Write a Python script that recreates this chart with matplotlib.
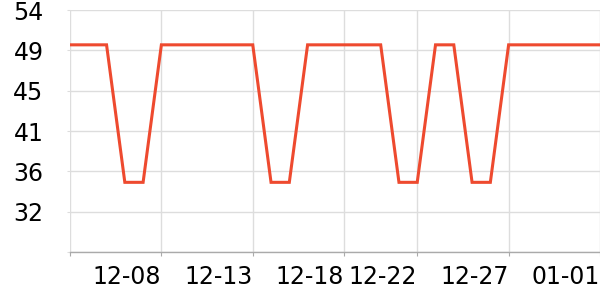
import matplotlib
matplotlib.use("Agg")
import matplotlib.pyplot as plt
import numpy as np

dates = ["12-03","12-04","12-05","12-06","12-07","12-08","12-09","12-10","12-11","12-12",
         "12-13","12-14","12-15","12-16","12-17","12-18","12-19","12-20","12-21","12-22",
         "12-23","12-24","12-25","12-26","12-27","12-28","12-29","12-30","12-31","01-01"]
values = [50, 50, 50, 35, 35, 50, 50, 50, 50, 50,
          50, 35, 35, 50, 50, 50, 50, 50, 35, 35,
          50, 50, 35, 35, 50, 50, 50, 50, 50, 50]
xtick_idx = [0, 5, 10, 15, 19, 24, 29]
xtick_labels = ["", "12-08", "12-13", "12-18", "12-22", "12-27", "01-01"]
ytick_vals = [27.4, 31.8, 36.2, 40.6, 45.0, 49.4, 53.8]
ytick_labels = ["", "32", "36", "41", "45", "49", "54"]

fig = plt.figure(figsize=(6, 3), dpi=100)
ax = fig.add_axes([70/600, 48/300, 530/600, 242/300])
x = np.arange(len(values))
ax.plot(x, values, color="#ee4a2f", linewidth=2.2, solid_joinstyle="miter", zorder=3)

ax.set_xlim(0, len(values) - 1)
ax.set_ylim(ytick_vals[0], ytick_vals[-1])
ax.set_xticks(xtick_idx)
ax.set_xticklabels(xtick_labels, fontsize=17, ha="right")
ax.set_yticks(ytick_vals)
ax.set_yticklabels(ytick_labels, fontsize=17)

ax.grid(True, color="#dddddd", linewidth=1)
ax.set_axisbelow(True)
for s in ["top", "right", "left"]:
    ax.spines[s].set_visible(False)
ax.spines["bottom"].set_color("#aaaaaa")
ax.spines["bottom"].set_linewidth(1)
ax.tick_params(axis="x", length=3, color="#aaaaaa", pad=6)
ax.tick_params(axis="y", length=2, color="#dddddd", pad=17)

fig.savefig("out.png", dpi=100)
